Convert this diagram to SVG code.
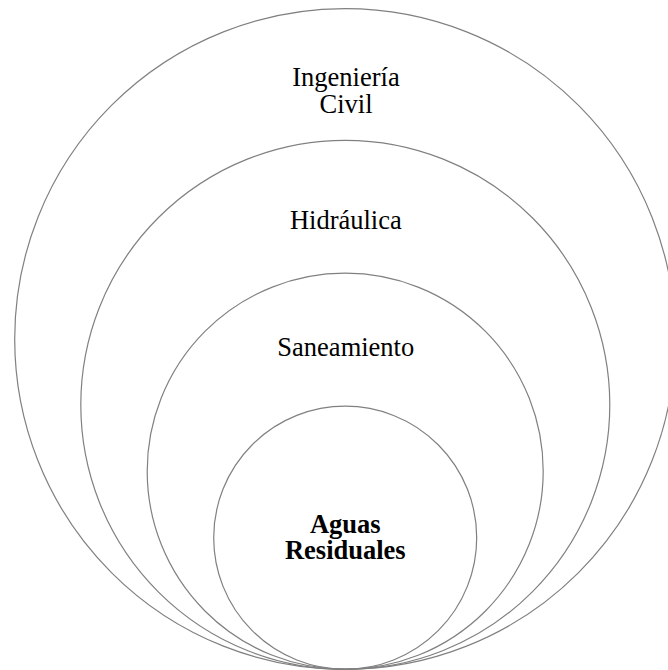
<svg xmlns="http://www.w3.org/2000/svg" width="668" height="670" viewBox="0 0 668 670">
<style>
.c{fill:none;stroke:#808080;stroke-width:1.2}
.t{font-family:"Liberation Serif","Times New Roman",serif;font-size:26.5px;fill:#000;text-anchor:middle}
.b{font-weight:bold}
</style>
<rect width="668" height="670" fill="#fff"/>
<g id="ingenieria-civil">
<circle class="c" cx="345" cy="339" r="330.3"/>
<text class="t" x="346" y="86">Ingeniería</text>
<text class="t" x="346" y="113">Civil</text>
</g>
<g id="hidraulica">
<circle class="c" cx="345.3" cy="404.8" r="264.5"/>
<text class="t" x="345.8" y="229">Hidráulica</text>
</g>
<g id="saneamiento">
<circle class="c" cx="345.2" cy="471.2" r="198"/>
<text class="t" x="345.8" y="356">Saneamiento</text>
</g>
<g id="aguas-residuales">
<circle class="c" cx="345.2" cy="537.7" r="131.5"/>
<text class="t b" x="345.3" y="533">Aguas</text>
<text class="t b" x="345.3" y="559">Residuales</text>
</g>
<g id="connectors"></g>
</svg>
